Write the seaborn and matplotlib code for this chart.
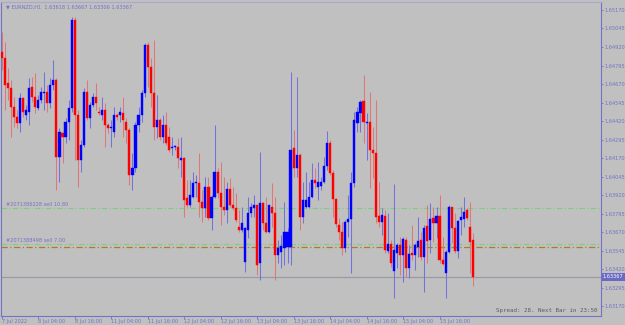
import numpy as np
import pandas as pd
import seaborn as sns
import matplotlib
matplotlib.use("Agg")
import matplotlib.pyplot as plt
import matplotlib.transforms as mtransforms

# EURNZD H1 candles, from 7 Jul 2022 16:00 on
opens = [1.64886, 1.64846, 1.64677, 1.64643, 1.64515, 1.64447, 1.64407, 1.64576, 1.64461, 1.64481,
         1.64650, 1.64582, 1.64508, 1.64562, 1.64609, 1.64616, 1.64542, 1.64663, 1.64697, 1.64177,
         1.64339, 1.64312, 1.64413, 1.64508, 1.65103, 1.64461, 1.64156, 1.64258, 1.64616, 1.64440,
         1.64528, 1.64582, 1.64481, 1.64461, 1.64494, 1.64393, 1.64373, 1.64346, 1.64461, 1.64461,
         1.64474, 1.64413, 1.64359, 1.64055, 1.64102, 1.64393, 1.64461, 1.64609, 1.64934, 1.64785,
         1.64609, 1.64379, 1.64427, 1.64312, 1.64393, 1.64312, 1.64238, 1.64244, 1.64244, 1.64156,
         1.64170, 1.63900, 1.63852, 1.63906, 1.64001, 1.64001, 1.63872, 1.63832, 1.63974, 1.63764,
         1.63906, 1.64075, 1.63933, 1.63839, 1.63818, 1.63960, 1.63852, 1.63832, 1.63703, 1.63683,
         1.63467, 1.63683, 1.63798, 1.63832, 1.63852, 1.63460, 1.63866, 1.63731, 1.63670, 1.63839,
         1.63798, 1.63514, 1.63534, 1.63562, 1.63568, 1.63568, 1.64238, 1.64102, 1.64190, 1.63771,
         1.63839, 1.63839, 1.63906, 1.64021, 1.63974, 1.63981, 1.64008, 1.64116, 1.64271, 1.64068,
         1.63893, 1.63717, 1.63670, 1.63562, 1.63737, 1.63758, 1.64001, 1.64407, 1.64474, 1.64555,
         1.64407, 1.64413, 1.64224, 1.64204, 1.63778, 1.63737, 1.63778, 1.63541, 1.63589, 1.63406,
         1.63528, 1.63582, 1.63514, 1.63616, 1.63426, 1.63528, 1.63514, 1.63568, 1.63616, 1.63501,
         1.63710, 1.63616, 1.63764, 1.63731, 1.63778, 1.63480, 1.63393, 1.63534, 1.63839, 1.63697,
         1.63541, 1.63751, 1.63758, 1.63818, 1.63703, 1.63618]
highs = [1.65022, 1.64954, 1.64778, 1.64697, 1.64582, 1.64494, 1.64609, 1.64582, 1.64528, 1.64711,
         1.64717, 1.64745, 1.64596, 1.64650, 1.64751, 1.64663, 1.64711, 1.64832, 1.64711, 1.64373,
         1.64346, 1.64440, 1.64562, 1.65123, 1.65123, 1.64494, 1.64292, 1.64643, 1.64697, 1.64548,
         1.64609, 1.64677, 1.64515, 1.64582, 1.64542, 1.64407, 1.64427, 1.64515, 1.64474, 1.64515,
         1.64582, 1.64440, 1.64373, 1.64204, 1.64413, 1.64515, 1.64630, 1.64947, 1.64954, 1.64846,
         1.64968, 1.64596, 1.64440, 1.64461, 1.64481, 1.64379, 1.64312, 1.64258, 1.64305, 1.64312,
         1.64177, 1.64021, 1.64021, 1.64075, 1.64055, 1.64204, 1.63954, 1.64041, 1.64041, 1.63920,
         1.64393, 1.64102, 1.64143, 1.64041, 1.64008, 1.64035, 1.63974, 1.63933, 1.63818, 1.63839,
         1.63703, 1.63906, 1.63866, 1.63920, 1.63852, 1.64210, 1.63872, 1.63906, 1.63852, 1.64001,
         1.63906, 1.63616, 1.63649, 1.63872, 1.63697, 1.64751, 1.64359, 1.64717, 1.64204, 1.64008,
         1.64075, 1.64008, 1.64136, 1.64102, 1.64143, 1.64041, 1.64177, 1.64352, 1.64292, 1.64089,
         1.63900, 1.63764, 1.63737, 1.63751, 1.63920, 1.64075, 1.64481, 1.64515, 1.64562, 1.64731,
         1.64474, 1.64616, 1.64379, 1.64562, 1.64008, 1.63832, 1.63818, 1.63798, 1.63616, 1.63994,
         1.63595, 1.63636, 1.63636, 1.63636, 1.63582, 1.63717, 1.63595, 1.63771, 1.63670, 1.63717,
         1.63852, 1.63866, 1.63839, 1.63839, 1.63920, 1.63636, 1.63548, 1.63852, 1.63839, 1.63798,
         1.63751, 1.63839, 1.63906, 1.63832, 1.63872, 1.63667]
lows = [1.64765, 1.64494, 1.64562, 1.64312, 1.64379, 1.64373, 1.64346, 1.64447, 1.64427, 1.64393,
        1.64548, 1.64474, 1.64494, 1.64542, 1.64494, 1.64481, 1.64508, 1.64630, 1.63954, 1.64008,
        1.64136, 1.64271, 1.64292, 1.64481, 1.64156, 1.63974, 1.64075, 1.64244, 1.64427, 1.64373,
        1.64515, 1.64494, 1.64461, 1.64427, 1.64244, 1.64339, 1.64244, 1.64312, 1.64427, 1.64413,
        1.64312, 1.64271, 1.63987, 1.63954, 1.64075, 1.64346, 1.64413, 1.64582, 1.64650, 1.64515,
        1.64292, 1.64305, 1.64292, 1.64271, 1.64258, 1.64210, 1.64190, 1.64224, 1.64102, 1.64041,
        1.63771, 1.63839, 1.63839, 1.63900, 1.63906, 1.63771, 1.63737, 1.63771, 1.63751, 1.63683,
        1.63900, 1.63900, 1.63717, 1.63785, 1.63731, 1.63839, 1.63818, 1.63737, 1.63670, 1.63670,
        1.63399, 1.63629, 1.63771, 1.63771, 1.63379, 1.63345, 1.63683, 1.63663, 1.63663, 1.63703,
        1.63345, 1.63460, 1.63426, 1.63447, 1.63460, 1.63447, 1.64041, 1.64041, 1.63683, 1.63731,
        1.63832, 1.63832, 1.63900, 1.63967, 1.63886, 1.63954, 1.64001, 1.64089, 1.64055, 1.63771,
        1.63703, 1.63616, 1.63514, 1.63534, 1.63636, 1.63393, 1.63974, 1.64346, 1.64346, 1.64271,
        1.64156, 1.63967, 1.64035, 1.63731, 1.63703, 1.63649, 1.63528, 1.63528, 1.63433, 1.63224,
        1.63426, 1.63379, 1.63332, 1.63365, 1.63359, 1.63480, 1.63413, 1.63501, 1.63480, 1.63264,
        1.63460, 1.63528, 1.63602, 1.63629, 1.63460, 1.63447, 1.63224, 1.63528, 1.63595, 1.63528,
        1.63494, 1.63649, 1.63703, 1.63751, 1.63393, 1.63306]
closes = [1.64846, 1.64663, 1.64643, 1.64515, 1.64447, 1.64407, 1.64576, 1.64481, 1.64494, 1.64643,
          1.64582, 1.64515, 1.64562, 1.64616, 1.64616, 1.64542, 1.64663, 1.64697, 1.64177, 1.64346,
          1.64312, 1.64413, 1.64508, 1.65103, 1.64461, 1.64156, 1.64258, 1.64616, 1.64440, 1.64528,
          1.64582, 1.64542, 1.64474, 1.64494, 1.64393, 1.64373, 1.64379, 1.64461, 1.64447, 1.64481,
          1.64427, 1.64359, 1.64055, 1.64102, 1.64393, 1.64461, 1.64609, 1.64934, 1.64785, 1.64609,
          1.64379, 1.64427, 1.64312, 1.64393, 1.64271, 1.64224, 1.64244, 1.64251, 1.64170, 1.64170,
          1.63886, 1.63852, 1.63920, 1.64001, 1.64008, 1.63872, 1.63832, 1.63974, 1.63764, 1.63906,
          1.64075, 1.63933, 1.63839, 1.63818, 1.63960, 1.63852, 1.63832, 1.63751, 1.63683, 1.63731,
          1.63697, 1.63798, 1.63839, 1.63852, 1.63447, 1.63866, 1.63731, 1.63670, 1.63852, 1.63798,
          1.63514, 1.63562, 1.63575, 1.63670, 1.63670, 1.64224, 1.64102, 1.64190, 1.63771, 1.63886,
          1.63886, 1.63906, 1.64021, 1.64001, 1.64008, 1.64008, 1.64116, 1.64271, 1.64068, 1.63893,
          1.63724, 1.63670, 1.63562, 1.63737, 1.63758, 1.64001, 1.64427, 1.64481, 1.64548, 1.64413,
          1.64413, 1.64224, 1.64204, 1.63771, 1.63737, 1.63785, 1.63548, 1.63589, 1.63460, 1.63548,
          1.63582, 1.63514, 1.63622, 1.63426, 1.63521, 1.63514, 1.63582, 1.63609, 1.63501, 1.63697,
          1.63609, 1.63758, 1.63731, 1.63778, 1.63480, 1.63453, 1.63534, 1.63839, 1.63697, 1.63541,
          1.63744, 1.63771, 1.63805, 1.63764, 1.63602, 1.63367]

time_labels = ["7 Jul 2022", "8 Jul 04:00", "8 Jul 16:00", "11 Jul 04:00", "11 Jul 16:00",
               "12 Jul 04:00", "12 Jul 16:00", "13 Jul 04:00", "13 Jul 16:00", "14 Jul 04:00",
               "14 Jul 16:00", "15 Jul 04:00", "15 Jul 16:00"]
price_ticks = [1.63170, 1.63295, 1.63420, 1.63545, 1.63670, 1.63795, 1.63920, 1.64045, 1.64170,
               1.64295, 1.64420, 1.64545, 1.64670, 1.64795, 1.64920, 1.65045, 1.65170]

order_prices = [1.63832, 1.63591]
order_labels = ["#2071386228 sell 10.80", "#2071388498 sell 7.00"]
stop_price = 1.63571
last_price = 1.63367

df = pd.DataFrame({"open": opens, "high": highs, "low": lows, "close": closes})
df["bar"] = np.arange(len(df))
df["bull"] = df["close"] >= df["open"]

bg = "#C0C0C0"
axis_col = "#7272C6"
fs = 3.6
sns.set_theme(style="white", rc={"axes.facecolor": bg, "figure.facecolor": bg,
                                 "axes.edgecolor": axis_col, "font.size": fs})
plt.rcParams["font.family"] = ["DejaVu Sans"]

fig = plt.figure(figsize=(6.25, 3.25), dpi=100)
ax = fig.add_axes([1 / 625, 9 / 325, 600 / 625, 314 / 325])

body_col = np.where(df["bull"], "#0000FF", "#FF0000")
wick_col = np.where(df["bull"], "#7373E0", "#E07878")

ax.vlines(df["bar"], df["low"], df["high"], colors=wick_col, lw=0.75, zorder=2)
ax.bar(df["bar"], df["close"] - df["open"], bottom=df["open"], width=0.7,
       color=body_col, edgecolor=body_col, linewidth=0.3, zorder=3)

# order lines
ax.axhline(order_prices[0], color="#7CCF7C", lw=0.8, ls=(0, (5, 2, 1, 2)), zorder=1)
ax.axhline(order_prices[1], color="#7CCF7C", lw=0.8, ls=(0, (5, 2, 1, 2)), zorder=1)
ax.axhline(stop_price, color="#B07A2A", lw=0.9, ls=(0, (5, 2, 1, 2)), zorder=1)
for p, lab in zip(order_prices, order_labels):
    ax.text(1.3, p + 0.00004, lab, color=axis_col, fontsize=fs, va="bottom", ha="left")

# bid line
ax.axhline(last_price, color="#9A9AA6", lw=0.9, zorder=1)

ax.set_xlim(-0.23, 197.1)
ax.set_ylim(1.63103, 1.65224)

ax.yaxis.tick_right()
ax.set_yticks(price_ticks)
ax.set_yticklabels([f"{p:.5f}" for p in price_ticks])
ax.set_xticks(np.arange(len(time_labels)) * 12)
ax.set_xticklabels(time_labels, ha="left")
ax.tick_params(axis="y", colors=axis_col, labelsize=fs, length=1.5, width=0.6, pad=1.2,
               right=True, left=False)
ax.tick_params(axis="x", colors=axis_col, labelsize=fs, length=2.0, width=0.6, pad=0.5,
               bottom=True)
for s in ax.spines.values():
    s.set_color(axis_col)
    s.set_linewidth(0.8)
ax.spines["top"].set_color("#A8A8D0")

# last price label on the scale
trans = mtransforms.blended_transform_factory(ax.transAxes, ax.transData)
ax.text(1.003, last_price, f"{last_price:.5f}", transform=trans, color="white",
        fontsize=fs, va="center", ha="left",
        bbox=dict(boxstyle="square,pad=0.25", fc="#6A6AC4", ec="none"))

ax.text(0.008, 0.993, "\u25bc EURNZD,H1  1.63618 1.63667 1.63306 1.63367", transform=ax.transAxes,
        color=axis_col, fontsize=fs, va="top", ha="left")
ax.text(0.995, 0.008, "Spread: 28. Next Bar in 23:50", transform=ax.transAxes,
        color="#5C5C5C", fontsize=4.2, family="DejaVu Sans Mono", va="bottom", ha="right")

fig.savefig("out.png", dpi=100, facecolor=bg)
